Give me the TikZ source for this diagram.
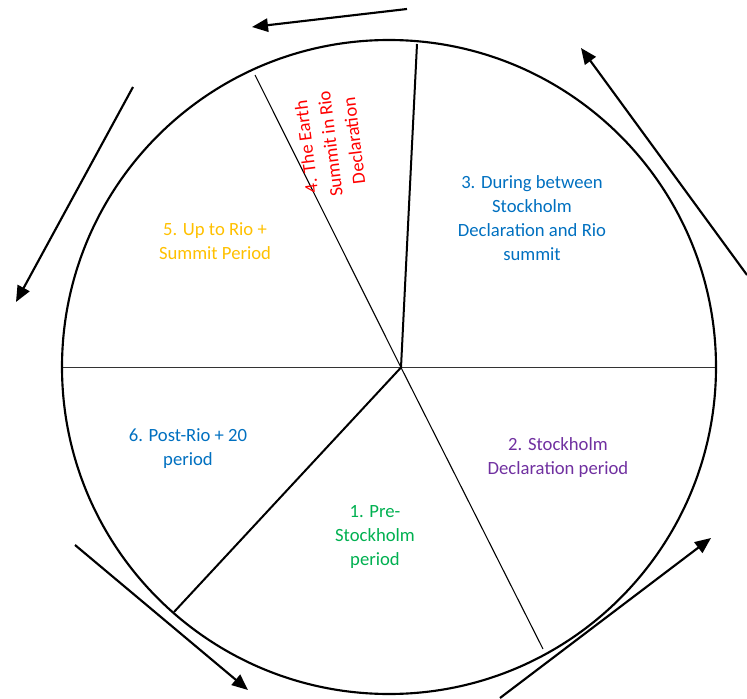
\documentclass[tikz,border=0pt]{standalone}
\usepackage{fontspec}
\setmainfont{Carlito}
\usetikzlibrary{arrows.meta}
\definecolor{corange}{HTML}{FFC000}
\definecolor{cred}{HTML}{FF0000}
\definecolor{cblue}{HTML}{0070C0}
\definecolor{cpurple}{HTML}{7030A0}
\definecolor{cgreen}{HTML}{00B050}
\tikzset{
  rim/.style={draw=black, line width=1.6pt},
  thinspoke/.style={draw=black, line width=0.8pt},
  thickspoke/.style={draw=black, line width=1.5pt},
  flowarrow/.style={draw=black, line width=1.6pt, -{Triangle[length=12pt,width=10pt]}},
  lbl/.style={align=center, inner sep=0pt, font=\fontsize{14pt}{18pt}\selectfont}
}
\begin{document}
\begin{tikzpicture}[x=0.75pt, y=-0.75pt]
\useasboundingbox (0,0) rectangle (747,699);
% circle
\draw[rim] (389,367) circle[radius=327];
% hub and spoke ends
\coordinate (o) at (401,367.5);
\coordinate (hl) at (63,367.5);
\coordinate (hr) at (715,367.5);
\coordinate (top) at (417,44);
\coordinate (ul) at (255,75);
\coordinate (lr) at (543,649);
\coordinate (ll) at (174,612);
\draw[draw=black!80, line width=0.8pt] (hl) -- (hr);
\draw[thickspoke] (o) -- (top);
\draw[thinspoke] (o) -- (ul);
\draw[thinspoke] (o) -- (lr);
\draw[thickspoke] (o) -- (ll);
% arrows
\coordinate (a1s) at (407,9);   \coordinate (a1e) at (252,27);
\coordinate (a2s) at (747,275); \coordinate (a2e) at (581,48);
\coordinate (a3s) at (133,87);  \coordinate (a3e) at (16,302);
\coordinate (a4s) at (75,545);  \coordinate (a4e) at (248,690);
\coordinate (a5s) at (500,698); \coordinate (a5e) at (711,538);
\draw[flowarrow] (a1s) -- (a1e);
\draw[flowarrow] (a2s) -- (a2e);
\draw[flowarrow] (a3s) -- (a3e);
\draw[flowarrow] (a4s) -- (a4e);
\draw[flowarrow] (a5s) -- (a5e);
% labels
\node[lbl, text=corange] (t5) at (215,241) {5. Up to Rio +\\Summit Period};
\node[lbl, text=cred, rotate=97] (t4) at (330,144) {4. The Earth\\Summit in Rio\\Declaration};
\node[lbl, text=cblue] (t3) at (532,218) {3. During between\\Stockholm\\Declaration and Rio\\summit};
\node[lbl, text=cblue] (t6) at (188,449) {6. Post-Rio + 20\\period};
\node[lbl, text=cpurple] (t2) at (558,458) {2. Stockholm\\Declaration period};
\node[lbl, text=cgreen] (t1) at (375,537) {1. Pre-\\Stockholm\\period};
\end{tikzpicture}
\end{document}
